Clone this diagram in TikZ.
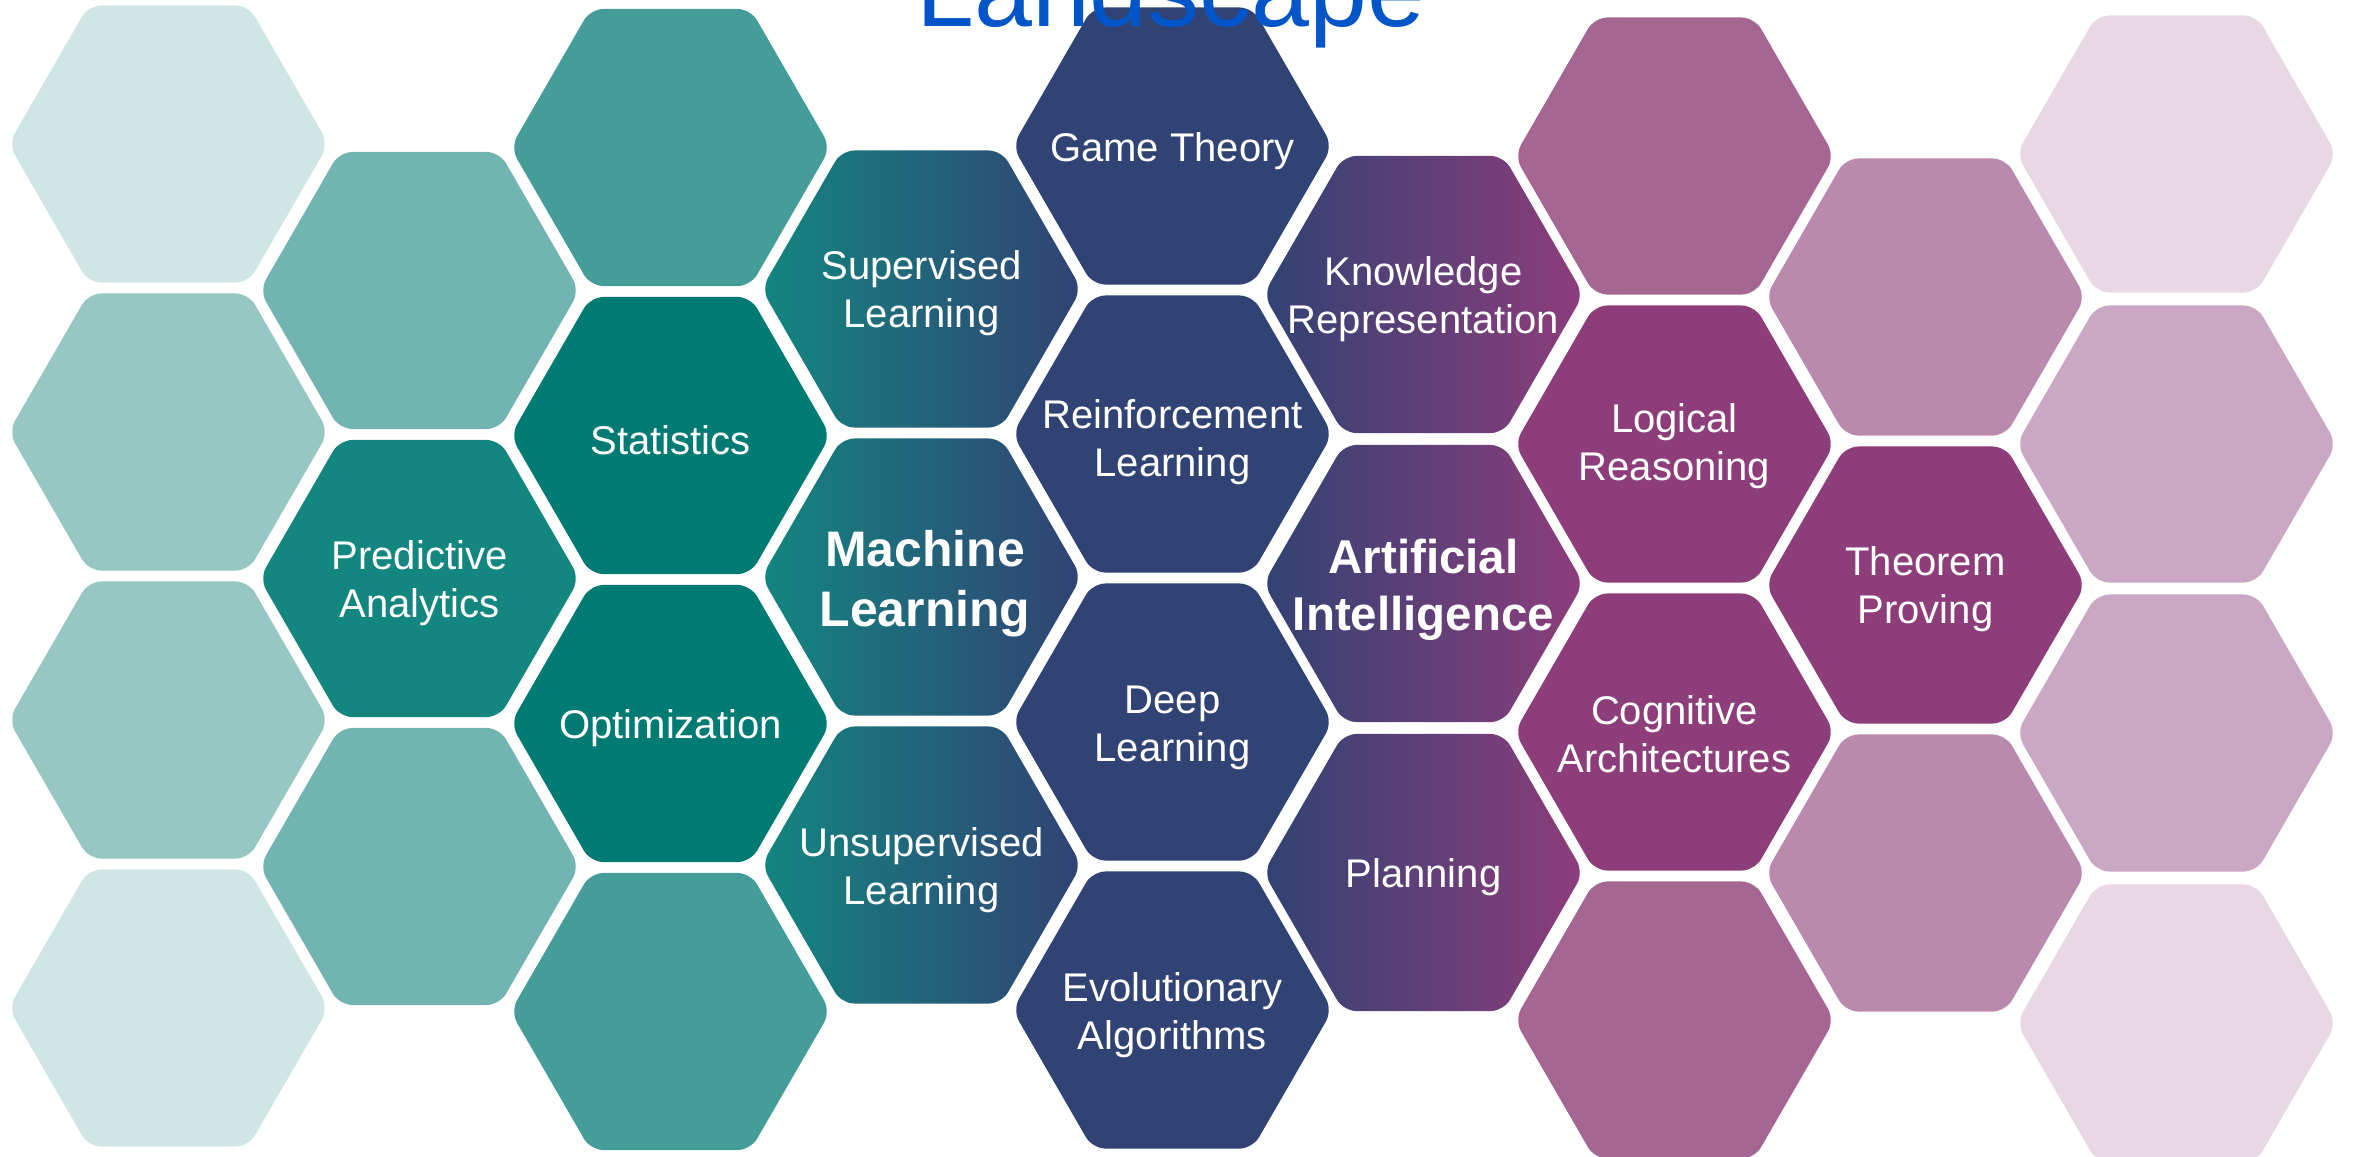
\documentclass[tikz,border=0pt]{standalone}
\usepackage{fontspec}
\setmainfont{Liberation Sans}
\definecolor{vlteal}{HTML}{D0E6E4}
\definecolor{lteal}{HTML}{96C7C3}
\definecolor{mlteal}{HTML}{72B4B1}
\definecolor{mteal}{HTML}{449D98}
\definecolor{tealB}{HTML}{138680}
\definecolor{dteal}{HTML}{007B74}
\definecolor{navy}{HTML}{314274}
\definecolor{purpleD}{HTML}{8E3D7B}
\definecolor{purpleM}{HTML}{A56694}
\definecolor{purpleL}{HTML}{B98AAE}
\definecolor{purpleLL}{HTML}{CAA7C2}
\definecolor{purpleVL}{HTML}{E7D8E3}
\definecolor{titleblue}{HTML}{0055C8}
\newcommand\hexpath[3]{%
  \path[#3, rounded corners=0.13cm] (#1,#2) ++(0,-138.56) -- ++(80,0) -- ++(80,138.56)
    -- ++(-80,138.56) -- ++(-160,0) -- ++(-80,-138.56) -- ++(80,-138.56) -- cycle;}
\tikzset{
  lbl/.style={text=white, align=center, inner sep=0pt, yshift=-0.045cm,
    font=\fontsize{11.38pt}{13.66pt}\selectfont},
  bigML/.style={text=white, align=center, inner sep=0pt, yshift=-0.06cm,
    font=\bfseries\fontsize{14.2pt}{17.07pt}\selectfont},
  bigAI/.style={text=white, align=center, inner sep=0pt, yshift=-0.05cm,
    font=\bfseries\fontsize{13.5pt}{16.2pt}\selectfont},
  mlgrad/.style={left color=tealB, right color=navy},
  aigrad/.style={left color=navy, right color=purpleD},
}
\begin{document}
\begin{tikzpicture}[x=0.01cm, y=-0.01cm]
\useasboundingbox (0,0) rectangle (2356,1156);
\clip (0,0) rectangle (2356,1156);
\fill[white] (0,0) rectangle (2356,1156);
% column 1
\hexpath{168.5}{144}{fill=vlteal}
\hexpath{168.5}{432}{fill=lteal}
\hexpath{168.5}{720}{fill=lteal}
\hexpath{168.5}{1008}{fill=vlteal}
% column 2
\hexpath{419.5}{290.5}{fill=mlteal}
\hexpath{419.5}{578.5}{fill=tealB}
\hexpath{419.5}{866.5}{fill=mlteal}
% column 3
\hexpath{670.5}{147.5}{fill=mteal}
\hexpath{670.5}{435.5}{fill=dteal}
\hexpath{670.5}{723.5}{fill=dteal}
\hexpath{670.5}{1011.5}{fill=mteal}
% column 4
\hexpath{921.5}{289}{shade, mlgrad}
\hexpath{921.5}{577}{shade, mlgrad}
\hexpath{921.5}{865}{shade, mlgrad}
% column 5
\hexpath{1172.5}{146}{fill=navy}
\hexpath{1172.5}{434}{fill=navy}
\hexpath{1172.5}{722}{fill=navy}
\hexpath{1172.5}{1010}{fill=navy}
% column 6
\hexpath{1423.5}{294.5}{shade, aigrad}
\hexpath{1423.5}{583.5}{shade, aigrad}
\hexpath{1423.5}{872.5}{shade, aigrad}
% column 7
\hexpath{1674.5}{156}{fill=purpleM}
\hexpath{1674.5}{444}{fill=purpleD}
\hexpath{1674.5}{732}{fill=purpleD}
\hexpath{1674.5}{1020}{fill=purpleM}
% column 8
\hexpath{1925.5}{297}{fill=purpleL}
\hexpath{1925.5}{585}{fill=purpleD}
\hexpath{1925.5}{873}{fill=purpleL}
% column 9
\hexpath{2176.5}{154}{fill=purpleVL}
\hexpath{2176.5}{444}{fill=purpleLL}
\hexpath{2176.5}{733}{fill=purpleLL}
\hexpath{2176.5}{1023}{fill=purpleVL}
% labels
\node[lbl] (pa) at (419.5,578.5) {Predictive\\Analytics};
\node[lbl] (st) at (670.5,435.5) {Statistics};
\node[lbl] (op) at (670.5,723.5) {Optimization};
\node[lbl] (sl) at (921.5,289) {Supervised\\Learning};
\node[bigML] (ml) at (925,578) {Machine\\Learning};
\node[lbl] (ul) at (921.5,866) {Unsupervised\\Learning};
\node[lbl] (gt) at (1172.5,147) {Game Theory};
\node[lbl] (rl) at (1172.5,438) {Reinforcement\\Learning};
\node[lbl] (dl) at (1172.5,723) {Deep\\Learning};
\node[lbl] (ea) at (1172.5,1011) {Evolutionary\\Algorithms};
\node[lbl] (kr) at (1423.5,295) {Knowledge\\Representation};
\node[bigAI] (ai) at (1423.5,585) {Artificial\\Intelligence};
\node[lbl] (pl) at (1423.5,873) {Planning};
\node[lbl] (lr) at (1674.5,442) {Logical\\Reasoning};
\node[lbl] (ca) at (1674.5,730) {Cognitive\\Architectures};
\node[lbl] (tp) at (1925.5,585) {Theorem\\Proving};
% title (mostly above the page)
\node[anchor=base, inner sep=0pt, text=titleblue,
  font=\fontsize{29.6pt}{35pt}\selectfont] (title) at (1171,26) {Landscape};
\end{tikzpicture}
\end{document}
